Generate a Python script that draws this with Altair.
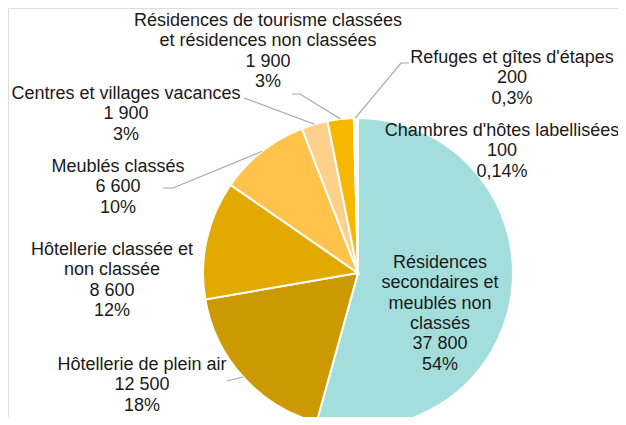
import altair as alt
import pandas as pd
import numpy as np

# ---------------- data ----------------
categories = [
    "Résidences secondaires et meublés non classés",
    "Hôtellerie de plein air",
    "Hôtellerie classée et non classée",
    "Meublés classés",
    "Centres et villages vacances",
    "Résidences de tourisme classées et résidences non classées",
    "Refuges et gîtes d'étapes",
    "Chambres d'hôtes labellisées",
]
values = [37800, 12500, 8600, 6600, 1900, 1900, 200, 100]
value_labels = ["37 800", "12 500", "8 600", "6 600", "1 900", "1 900", "200", "100"]
pct_labels = ["54%", "18%", "12%", "10%", "3%", "3%", "0,3%", "0,14%"]
name_lines = [
    ["Résidences", "secondaires et", "meublés  non", "classés"],
    ["Hôtellerie de plein air"],
    ["Hôtellerie classée et", "non classée"],
    ["Meublés classés"],
    ["Centres et villages vacances"],
    ["Résidences de tourisme classées", "et résidences non classées"],
    ["Refuges et gîtes d'étapes"],
    ["Chambres d'hôtes labellisées"],
]
colors = ["#a4dedc", "#cc9a00", "#e2aa00", "#ffc34b", "#ffd08a", "#f6b800",
          "#fff3d6", "#fff7e6"]

# ---------------- layout (page pixels) ----------------
M = 8                      # page margin
CX, CY, R = 358, 273, 155  # pie centre / radius
FONT = 18
LINE_H = 20.3
label_x = [440, 142, 112, 118, 126, 268, 512, 502]
label_y = [262, 364, 249, 166, 93, 20, 57, 130]   # centre of first line
leader_start = {
    1: [(227, 381)],
    3: [(163, 188), (173, 188)],
    4: [(244, 98)],
    5: [(292, 94), (300, 94)],
    6: [(409, 63), (401, 63)],
}

# ---------------- tables ----------------
df = pd.DataFrame({
    "cat": categories,
    "value": values,
    "idx": list(range(len(values))),
})

label_text = [lines + [v, p] for lines, v, p in zip(name_lines, value_labels, pct_labels)]
lab = pd.DataFrame({
    "text": ["\n".join(t) for t in label_text],
    "x": [x - M for x in label_x],
    "y": [y - M - 8 for y in label_y],
})

# leader lines end at slice mid-angle on pie edge (derived from data)
vals = np.array(values, dtype=float)
cum = np.cumsum(vals) - vals / 2
ang = cum / vals.sum() * 2 * np.pi
rows = []
for i, pts in leader_start.items():
    ex = CX + R * np.sin(ang[i])
    ey = CY - R * np.cos(ang[i])
    allpts = pts + [(ex, ey)]
    for k, (px, py) in enumerate(allpts):
        rows.append({"g": i, "k": k, "x": px - M, "y": py - M})
lines_df = pd.DataFrame(rows)

pie = alt.Chart(df).mark_arc(
    outerRadius=R, stroke="white", strokeWidth=2
).encode(
    theta=alt.Theta("value:Q", stack=True),
    order=alt.Order("idx:Q"),
    color=alt.Color("cat:N", scale=alt.Scale(domain=categories, range=colors), legend=None),
    x=alt.value(CX - M),
    y=alt.value(CY - M),
)

leaders = alt.Chart(lines_df).mark_line(color="#a6a6a6", strokeWidth=1.2).encode(
    x=alt.X("x:Q", scale=None),
    y=alt.Y("y:Q", scale=None),
    detail="g:N",
    order="k:Q",
)

labels = alt.Chart(lab).mark_text(
    font="Liberation Sans", fontSize=FONT, color="#1a1a1a",
    align="center", baseline="top", lineBreak="\n", lineHeight=LINE_H,
).encode(
    x=alt.X("x:Q", scale=None),
    y=alt.Y("y:Q", scale=None),
    text="text:N",
)

chart = alt.layer(pie, leaders, labels).properties(
    width=610, height=409, padding=0,
    autosize=alt.AutoSizeParams(type="none"),
).configure_view(stroke=None).configure(background="white")

chart.save("out.html", embed_options={"renderer": "svg", "actions": False})
